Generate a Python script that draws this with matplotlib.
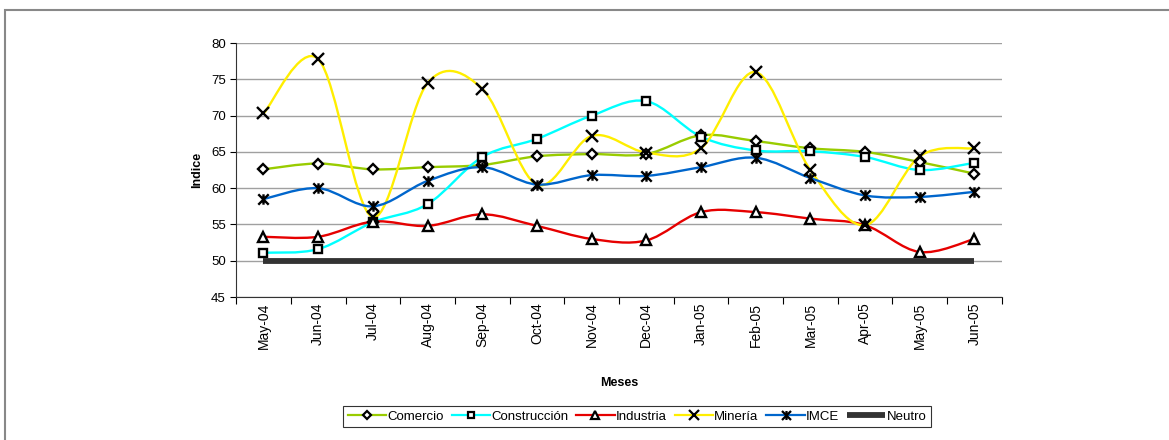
import matplotlib
matplotlib.use("Agg")
import matplotlib.pyplot as plt
from matplotlib.path import Path
from matplotlib.patches import PathPatch, Rectangle
import numpy as np

plt.rcParams['font.family'] = ['Liberation Sans', 'DejaVu Sans']

meses = ['May-04', 'Jun-04', 'Jul-04', 'Aug-04', 'Sep-04', 'Oct-04', 'Nov-04',
         'Dec-04', 'Jan-05', 'Feb-05', 'Mar-05', 'Apr-05', 'May-05', 'Jun-05']

comercio = [62.6, 63.4, 62.6, 62.9, 63.2, 64.4, 64.7, 64.7, 67.3, 66.5, 65.5, 65.0, 63.6, 62.0]
construccion = [51.1, 51.6, 55.3, 57.8, 64.3, 66.8, 70.0, 72.0, 67.1, 65.2, 65.1, 64.3, 62.5, 63.5]
industria = [53.3, 53.3, 55.4, 54.8, 56.4, 54.8, 53.0, 52.8, 56.7, 56.7, 55.8, 54.9, 51.2, 53.0]
mineria = [70.3, 77.8, 56.0, 74.5, 73.7, 60.5, 67.2, 64.9, 65.5, 76.0, 62.5, 54.9, 64.4, 65.5]
imce = [58.5, 60.0, 57.5, 61.0, 62.9, 60.5, 61.8, 61.7, 62.9, 64.2, 61.4, 59.0, 58.8, 59.5]
neutro = [50] * 14

# marcador tipo estrella de Excel: X con linea vertical
estrella = Path([(-1, -1), (1, 1), (-1, 1), (1, -1), (0, -1), (0, 1)],
                [Path.MOVETO, Path.LINETO] * 3)

series = [
    ('Comercio', comercio, '#99cc00', 'D', 5.5),
    ('Construcción', construccion, '#00ffff', 's', 5.5),
    ('Industria', industria, '#e60000', '^', 7),
    ('Minería', mineria, '#ffee00', 'x', 8),
    ('IMCE', imce, '#0066cc', estrella, 7.5),
]


def smooth_path(x, y):
    # curva suave tipo Excel (Bezier Catmull-Rom)
    p = np.column_stack([x, y]).astype(float)
    ext = np.vstack([p[0], p, p[-1]])
    verts = [p[0]]
    codes = [Path.MOVETO]
    for i in range(len(p) - 1):
        p0, p1, p2, p3 = ext[i], ext[i + 1], ext[i + 2], ext[i + 3]
        c1 = p1 + (p2 - p0) / 6.0
        c2 = p2 - (p3 - p1) / 6.0
        verts += [c1, c2, p2]
        codes += [Path.CURVE4] * 3
    return Path(verts, codes)


fig = plt.figure(figsize=(11.69, 4.4), dpi=100)
ax = fig.add_axes([0.202, 0.325, 0.655, 0.577])

x = np.arange(len(meses))

handles = []
for name, vals, col, mk, ms in series:
    ax.add_patch(PathPatch(smooth_path(x, vals), fill=False, edgecolor=col, lw=1.7, zorder=3))
    ax.plot(x, vals, ls='none', marker=mk, ms=ms, mfc='white', mec='black', mew=1.7, zorder=4)
    h, = ax.plot([], [], color=col, lw=1.6, marker=mk, ms=ms - 1, mfc='white', mec='black', mew=1.6)
    h.set_label(name)
    handles.append(h)

hn, = ax.plot(x, neutro, color='#333333', lw=4.2, zorder=5, solid_capstyle='butt', label='Neutro')
handles.append(hn)

ax.set_xlim(-0.5, len(meses) - 0.5)
ax.set_ylim(45, 80)
ax.set_yticks(range(45, 81, 5))
ax.set_xticks(x)
ax.set_xticklabels(meses, rotation=90, fontsize=10)
ax.set_xticks(np.arange(-0.5, len(meses), 1), minor=True)
ax.tick_params(axis='x', which='major', length=0, pad=4)
ax.tick_params(axis='x', which='minor', length=5, direction='out', width=0.8)
ax.tick_params(axis='y', length=4, direction='out', labelsize=9.5, width=0.8)
ax.yaxis.grid(True, color='#a0a0a0', lw=1)
ax.set_axisbelow(True)
for s in ['top', 'right']:
    ax.spines[s].set_visible(False)
ax.spines['left'].set_color('#333333')
ax.spines['bottom'].set_color('#333333')

ax.set_ylabel('Indice', fontsize=9, fontweight='bold', labelpad=6)
ax.set_xlabel('Meses', fontsize=9, fontweight='bold', labelpad=20)

leg = fig.legend(handles=handles, loc='center', bbox_to_anchor=(0.545, 0.053), ncol=6,
                 fontsize=9.5, frameon=True, fancybox=False, handlelength=2.9,
                 handletextpad=0.1, columnspacing=0.6, borderpad=0.35)
leg.get_frame().set_edgecolor('black')
leg.get_frame().set_linewidth(0.8)

fig.add_artist(Rectangle((0.0045, -0.1), 1.2, 1.077, transform=fig.transFigure,
                         fill=False, edgecolor='#888888', lw=1.5))

fig.savefig('out.png', dpi=100)
